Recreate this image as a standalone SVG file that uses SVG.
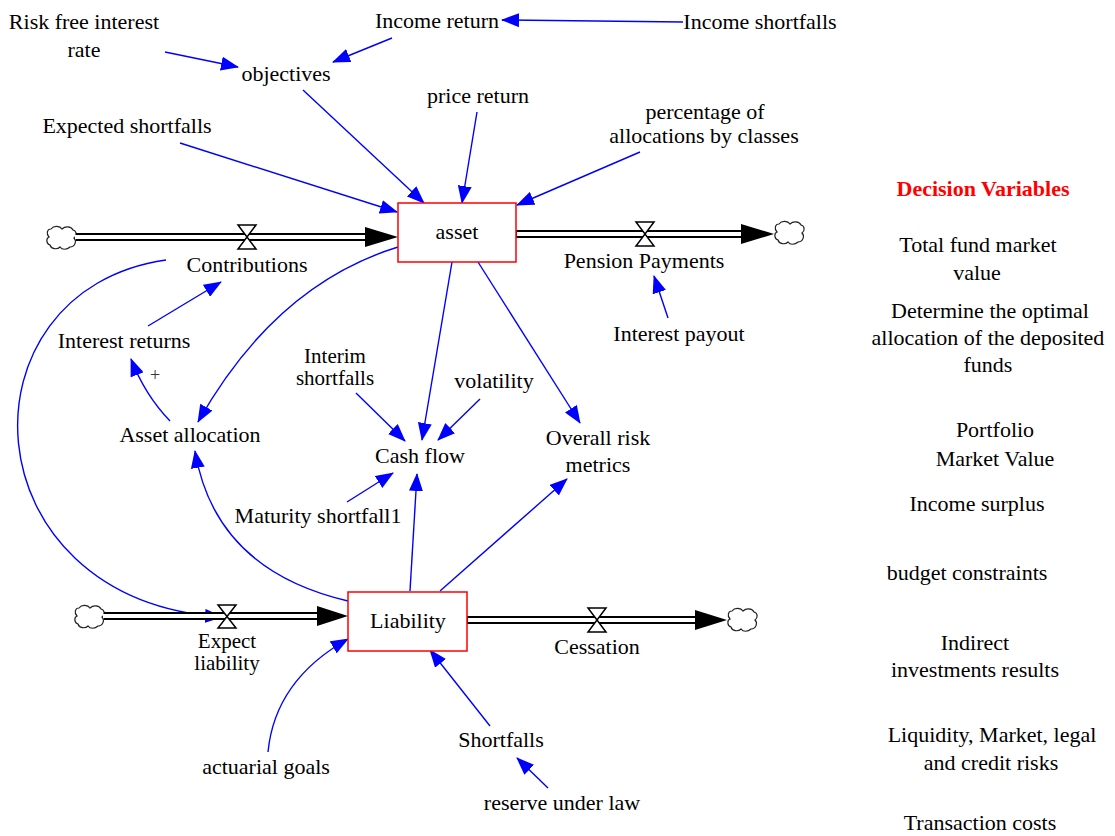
<svg xmlns="http://www.w3.org/2000/svg" width="1115" height="836" viewBox="0 0 1115 836" font-family="'Liberation Serif', 'Times New Roman', 'DejaVu Serif', serif">
<style>
text{font-family:'Liberation Serif','Times New Roman',Times,'DejaVu Serif',serif;font-size:22px;fill:#000;text-anchor:middle}
.dv{font-weight:bold;fill:#ff0000}
.plus{font-size:18px;fill:#333}
.sm{font-size:21px}
.stock{fill:#fff;stroke:#ff0000;stroke-width:1.5}
.link{fill:none;stroke:#0000ff;stroke-width:1.4;marker-end:url(#ah)}
.pipeo{stroke:#000;stroke-width:8;fill:none}
.pipei{stroke:#fff;stroke-width:4;fill:none}
.head{fill:#000}
.valve{fill:#fff;stroke:#000;stroke-width:1.5}
.cloud{fill:#fff;stroke:#222;stroke-width:1.2}
</style>
<defs>
<marker id="ah" markerUnits="userSpaceOnUse" markerWidth="18" markerHeight="14" refX="17" refY="7" orient="auto" viewBox="0 0 18 14">
<path d="M0,0 L18,7 L0,14 Z" fill="#0000ff"/>
</marker>
<path id="cl" d="M-10,-9 C-7,-13 -1,-12 1,-9 C4,-12 10,-12 12,-8 C16,-7 16,-2 13,0 C16,3 14,9 9,9 C6,12 1,12 -1,9 C-4,12 -10,11 -11,7 C-15,6 -15,0 -12,-1 C-15,-4 -14,-9 -10,-9 Z"/>
</defs>

<g id="connectors">
<line class="link" x1="683" y1="22" x2="502" y2="20"/>
<line class="link" x1="165" y1="52" x2="238" y2="67"/>
<line class="link" x1="392" y1="38" x2="333" y2="62"/>
<line class="link" x1="303" y1="90" x2="424" y2="203"/>
<line class="link" x1="180" y1="143" x2="397" y2="212"/>
<line class="link" x1="477" y1="112" x2="462" y2="203"/>
<line class="link" x1="640" y1="152" x2="517" y2="205"/>
<line class="link" x1="668" y1="318" x2="654" y2="276"/>
<line class="link" x1="148" y1="326" x2="221" y2="282"/>
<path class="link" d="M398,247 Q275,285 198,422"/>
<path class="link" d="M170,421 Q145,395 131,359"/>
<path class="link" d="M348,601 Q215,570 195,451"/>
<path class="link" d="M166,260 C-45,290 -35,600 222,617"/>
<line class="link" x1="356" y1="393" x2="405" y2="441"/>
<line class="link" x1="480" y1="399" x2="438" y2="440"/>
<line class="link" x1="452" y1="262" x2="422" y2="440"/>
<line class="link" x1="478" y1="262" x2="580" y2="423"/>
<line class="link" x1="347" y1="502" x2="393" y2="473"/>
<line class="link" x1="410" y1="591" x2="417" y2="474"/>
<line class="link" x1="440" y1="591" x2="567" y2="479"/>
<path class="link" d="M268,752 Q275,680 348,639"/>
<line class="link" x1="490" y1="726" x2="430" y2="650"/>
<line class="link" x1="548" y1="788" x2="517" y2="758"/>
</g>

<g id="flow-contributions">
<use href="#cl" class="cloud" x="61" y="238"/>
<line class="pipeo" x1="76" y1="237" x2="367" y2="237"/>
<line class="pipei" x1="75" y1="237" x2="367" y2="237"/>
<path class="head" d="M365,227 L398,237 L365,247 Z"/>
<path class="valve" d="M238,225 H256 L238,249 H256 Z"/>
<text x="247" y="272">Contributions</text>
</g>
<g id="flow-pension">
<line class="pipeo" x1="516" y1="234" x2="743" y2="234"/>
<line class="pipei" x1="517" y1="234" x2="743" y2="234"/>
<path class="head" d="M741,224 L774,234 L741,244 Z"/>
<use href="#cl" class="cloud" x="789" y="233"/>
<path class="valve" d="M636,222 H654 L636,246 H654 Z"/>
<text x="644" y="268">Pension Payments</text>
</g>
<g id="flow-expect">
<use href="#cl" class="cloud" x="89" y="617"/>
<line class="pipeo" x1="104" y1="616" x2="319" y2="616"/>
<line class="pipei" x1="103" y1="616" x2="319" y2="616"/>
<path class="head" d="M317,606 L348,616 L317,626 Z"/>
<path class="valve" d="M218,605 H236 L218,628 H236 Z"/>
<text class="sm" x="227" y="648">Expect</text>
<text class="sm" x="227" y="670">liability</text>
</g>
<g id="flow-cessation">
<line class="pipeo" x1="467" y1="620" x2="697" y2="620"/>
<line class="pipei" x1="468" y1="620" x2="697" y2="620"/>
<path class="head" d="M695,610 L727,620 L695,630 Z"/>
<use href="#cl" class="cloud" x="742" y="620"/>
<path class="valve" d="M588,608 H606 L588,632 H606 Z"/>
<text x="597" y="654">Cessation</text>
</g>

<g id="asset"><rect class="stock" x="398" y="203" width="118" height="59"/><text x="457" y="239">asset</text></g>
<g id="liability"><rect class="stock" x="348" y="592" width="119" height="59"/><text x="408" y="628">Liability</text></g>

<g id="risk-free"><text x="84" y="29">Risk free interest</text><text x="84" y="57">rate</text></g>
<g id="income-return"><text x="437" y="28">Income return</text></g>
<g id="income-shortfalls"><text x="760" y="29">Income shortfalls</text></g>
<g id="objectives"><text x="286" y="81">objectives</text></g>
<g id="price-return"><text x="478" y="103">price return</text></g>
<g id="expected-shortfalls"><text x="127" y="133">Expected shortfalls</text></g>
<g id="percentage"><text x="705" y="119">percentage of</text><text x="704" y="143">allocations by classes</text></g>
<g id="interest-payout"><text x="679" y="341">Interest payout</text></g>
<g id="interest-returns"><text x="124" y="348">Interest returns</text></g>
<g id="plus"><text class="plus" x="155" y="381">+</text></g>
<g id="asset-allocation"><text x="190" y="442">Asset allocation</text></g>
<g id="interim"><text class="sm" x="335" y="363">Interim</text><text class="sm" x="335" y="385">shortfalls</text></g>
<g id="volatility"><text x="494" y="388">volatility</text></g>
<g id="cash-flow"><text x="420" y="463">Cash flow</text></g>
<g id="overall-risk"><text x="598" y="445">Overall risk</text><text x="598" y="472">metrics</text></g>
<g id="maturity"><text x="318" y="523">Maturity shortfall1</text></g>
<g id="actuarial"><text x="266" y="774">actuarial goals</text></g>
<g id="shortfalls"><text x="501" y="747">Shortfalls</text></g>
<g id="reserve"><text x="562" y="810">reserve under law</text></g>

<g id="decision-variables">
<text class="dv" x="983" y="196">Decision Variables</text>
<text x="978" y="252">Total fund market</text>
<text x="977" y="280">value</text>
<text x="990" y="318">Determine the optimal</text>
<text x="988" y="345">allocation of the deposited</text>
<text x="988" y="372">funds</text>
<text x="995" y="437">Portfolio</text>
<text x="995" y="466">Market Value</text>
<text x="977" y="511">Income surplus</text>
<text x="967" y="580">budget constraints</text>
<text x="975" y="650">Indirect</text>
<text x="975" y="677">investments results</text>
<text x="992" y="742">Liquidity, Market, legal</text>
<text x="991" y="770">and credit risks</text>
<text x="980" y="830">Transaction costs</text>
</g>
</svg>
